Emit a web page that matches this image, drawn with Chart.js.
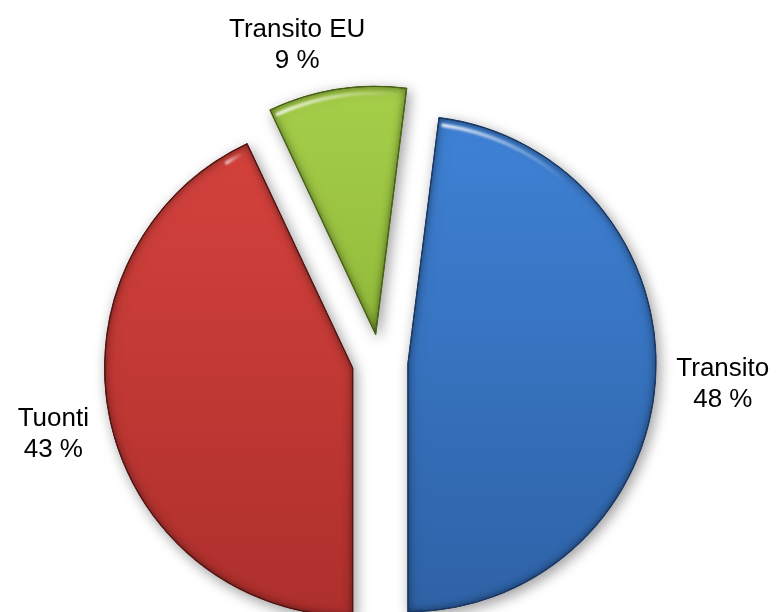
<!DOCTYPE html>
<html>
<head>
<meta charset="utf-8">
<script src="https://cdn.jsdelivr.net/npm/chart.js@4.4.1/dist/chart.umd.min.js"></script>
<style>
  html, body { margin: 0; padding: 0; background: #fff; overflow: hidden; }
  #wrap { position: relative; width: 776px; height: 612px; }
</style>
</head>
<body>
<div id="wrap"><canvas id="pie"></canvas></div>
<script>
// data
const labels = ['Transito', 'Tuonti', 'Transito EU'];
const shares = [48, 43, 9];

// styling
const colTop    = ['#3f82d6', '#d6433e', '#a5ce49'];
const colBottom = ['#2e62a6', '#ad2f2c', '#80a82f'];
const colEdge   = ['#1c3a66', '#561512', '#4a6614'];
const GAP = 28;           // every slice is pulled out this far (px)
const RADIUS = 248;
const LABEL_FONT = '26px "Liberation Sans", Arial, sans-serif';
const LINE_H = 31;

function sliceGeom(arc) {
  const p = arc.getProps(['x', 'y', 'startAngle', 'endAngle', 'outerRadius'], true);
  const mid = (p.startAngle + p.endAngle) / 2;
  return { ...p, mid, ox: p.x + Math.cos(mid) * GAP, oy: p.y + Math.sin(mid) * GAP };
}
function slicePath(c, g) {
  c.moveTo(g.ox, g.oy);
  c.arc(g.ox, g.oy, g.outerRadius, g.startAngle, g.endAngle);
  c.closePath();
}

// draws the library's arcs pulled out from the centre, with shadow and bevel
const exploded = {
  id: 'exploded',
  beforeDatasetDraw(chart, args) {
    const c = chart.ctx;
    const arcs = args.meta.data;
    arcs.forEach(arc => {
      const g = sliceGeom(arc);
      c.save();
      c.translate(g.ox - g.x, g.oy - g.y);
      c.shadowColor = 'rgba(0,0,0,0.40)';
      c.shadowBlur = 14;
      c.shadowOffsetX = 3;
      c.shadowOffsetY = 4;
      arc.draw(c);
      c.restore();
    });
    arcs.forEach(arc => {
      const g = sliceGeom(arc);
      c.save();
      c.beginPath(); slicePath(c, g); c.clip();
      // inner shadow along all edges
      c.beginPath();
      c.rect(-2000, -2000, 5000, 5000);
      slicePath(c, g);
      c.shadowColor = 'rgba(0,0,0,0.55)';
      c.shadowBlur = 9;
      c.fillStyle = '#000';
      c.fill('evenodd');
      c.shadowColor = 'transparent';
      // glossy rim near the top
      [-Math.PI / 2, Math.PI * 1.5].forEach(t => {
        const a0 = Math.max(t - 0.55, g.startAngle + 0.02);
        const a1 = Math.min(t + 0.7, g.endAngle - 0.02);
        if (a1 <= a0) return;
        const x0 = g.ox + Math.cos(a0) * g.outerRadius, x1 = g.ox + Math.cos(a1) * g.outerRadius;
        const lg = c.createLinearGradient(x0, 0, x1, 0);
        lg.addColorStop(0, 'rgba(255,255,255,0.85)');
        lg.addColorStop(1, 'rgba(255,255,255,0)');
        c.beginPath();
        c.arc(g.ox, g.oy, g.outerRadius - 7, a0, a1);
        c.strokeStyle = lg;
        c.lineWidth = 3.5;
        c.lineCap = 'round';
        c.filter = 'blur(1px)';
        c.stroke();
        c.filter = 'none';
      });
      c.restore();
      // crisp dark outline
      c.save();
      c.beginPath(); slicePath(c, g);
      c.lineJoin = 'round';
      c.lineWidth = 1.2;
      c.strokeStyle = colEdge[arc.$context ? arc.$context.dataIndex : 0];
      c.stroke();
      c.restore();
    });
    return false;
  }
};

const outsideLabels = {
  id: 'outsideLabels',
  afterDraw(chart, args, opts) {
    const c = chart.ctx;
    c.save();
    c.font = opts.font;
    c.fillStyle = '#000';
    c.textAlign = 'center';
    c.textBaseline = 'alphabetic';
    chart.getDatasetMeta(0).data.forEach((arc, i) => {
      const g = sliceGeom(arc);
      const cos = Math.cos(g.mid), sin = Math.sin(g.mid);
      const lines = [chart.data.labels[i], shares[i] + ' %'];
      const hw = Math.max(...lines.map(l => c.measureText(l).width)) / 2;
      const cap = 19, hh = (cap + opts.lineHeight) / 2;
      const r = g.outerRadius + opts.gap;
      const nudge = opts.nudge[i] || [0, 0];
      const cx = g.ox + cos * r + hw * cos + nudge[0];
      const cy = g.oy + sin * r + hh * sin + nudge[1];
      c.fillText(lines[0], cx, cy - hh + cap);
      c.fillText(lines[1], cx, cy + hh);
    });
    c.restore();
  }
};

new Chart(document.getElementById('pie'), {
  type: 'pie',
  data: {
    labels,
    datasets: [{
      data: shares,
      backgroundColor: ctx => {
        const ch = ctx.chart, a = ch.chartArea, i = ctx.dataIndex;
        if (!a) return colTop[i];
        const cy = (a.top + a.bottom) / 2;
        const g = ch.ctx.createLinearGradient(0, cy - RADIUS, 0, cy + RADIUS);
        g.addColorStop(0, colTop[i]);
        g.addColorStop(1, colBottom[i]);
        return g;
      },
      borderColor: colEdge,
      borderWidth: 1,
      borderJoinStyle: 'round',
      offset: 0,
      hoverOffset: 0
    }]
  },
  options: {
    responsive: true,
    maintainAspectRatio: false,
    animation: false,
    events: [],
    radius: RADIUS,
    rotation: 180 - shares[0] * 3.6,
    layout: { padding: { left: 0, right: 16, top: 112, bottom: 0 } },
    plugins: {
      legend: { display: false },
      tooltip: { enabled: false },
      outsideLabels: { font: LABEL_FONT, lineHeight: LINE_H, gap: 19, nudge: [[2, 0], [-4, 0], [-26, -3]] }
    }
  },
  plugins: [exploded, outsideLabels]
});
</script>
</body>
</html>
